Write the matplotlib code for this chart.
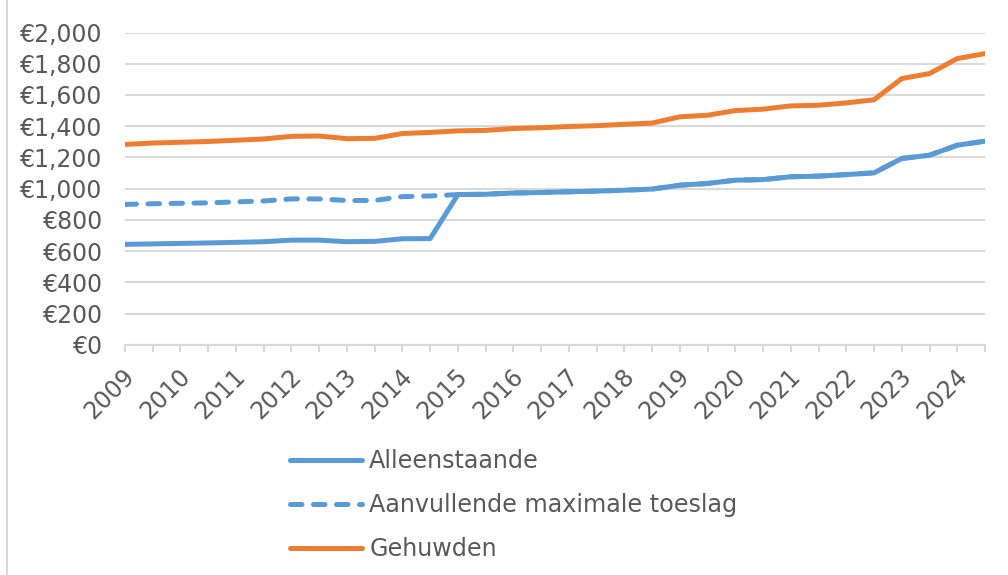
import matplotlib
matplotlib.use("Agg")
import matplotlib.pyplot as plt
from matplotlib.lines import Line2D
import matplotlib.transforms as mtransforms

plt.rcParams['font.family'] = ['DejaVu Sans']

# Half-yearly periods 2009 H1 ... 2024 H2
years = list(range(2009, 2025))
periods = [f"{y}-{h}" for y in years for h in ("01", "07")]

alleenstaande = [643, 646, 649, 652, 656, 660, 670, 670, 660, 662, 679, 680,
                 962, 964, 972, 975, 980, 984, 990, 997, 1022, 1033, 1054, 1058,
                 1076, 1080, 1090, 1101, 1193, 1214, 1278, 1304]
aanvullende = [899, 903, 906, 909, 915, 921, 934, 934, 924, 924, 949, 953,
               962, 964, 972, 975, 980, 984, 990, 997, 1022, 1033, 1054, 1058,
               1076, 1080, 1090, 1101, 1193, 1214, 1278, 1304]
gehuwden = [1283, 1292, 1297, 1302, 1310, 1318, 1335, 1337, 1320, 1322, 1353, 1360,
            1370, 1373, 1385, 1390, 1398, 1403, 1412, 1420, 1460, 1470, 1500, 1509,
            1530, 1534, 1549, 1569, 1705, 1737, 1833, 1865]

y_ticks = [0, 200, 400, 600, 800, 1000, 1200, 1400, 1600, 1800, 2000]
y_labels = ["€0", "€200", "€400", "€600", "€800", "€1,000", "€1,200", "€1,400",
            "€1,600", "€1,800", "€2,000"]

blue = "#5B9BD5"
orange = "#ED7D31"
grid_c = "#D9D9D9"
text_c = "#595959"
fs = 17

fig = plt.figure(figsize=(10.08, 5.75), dpi=100)
ax = fig.add_axes([125/1008, 1-344.75/575, (985-125)/1008, (344.75-32.5)/575])

x = list(range(len(periods)))
lw = 3.6
ax.plot(x, aanvullende, color=blue, lw=lw, dashes=(2.3, 2.3),
        dash_capstyle='round', solid_capstyle='round', label="Aanvullende maximale toeslag", zorder=3)
ax.plot(x, alleenstaande, color=blue, lw=lw, solid_capstyle='round',
        solid_joinstyle='round', label="Alleenstaande", zorder=4)
ax.plot(x, gehuwden, color=orange, lw=lw, solid_capstyle='round',
        solid_joinstyle='round', label="Gehuwden", zorder=4)

ax.set_xlim(0, len(periods) - 1)
ax.set_ylim(0, 2000)
ax.set_yticks(y_ticks)
ax.set_yticklabels(y_labels)
ax.yaxis.grid(True, color=grid_c, lw=1.5)
ax.set_axisbelow(True)
for s in ["top", "right", "left"]:
    ax.spines[s].set_visible(False)
ax.spines["bottom"].set_color(grid_c)
ax.spines["bottom"].set_linewidth(1.5)

ax.tick_params(axis='y', length=0, pad=16, labelsize=fs, labelcolor=text_c)
ax.set_xticks(x, minor=True)
major = x[::2]
ax.set_xticks(major)
ax.set_xticklabels([p[:4] for p in periods[::2]])
ax.tick_params(axis='x', which='both', length=5, width=1.5, color=grid_c, direction='out')
ax.tick_params(axis='x', which='major', labelsize=fs, labelcolor=text_c, pad=15)
offset = mtransforms.ScaledTranslation(6/100, 0, fig.dpi_scale_trans)
for lab in ax.get_xticklabels():
    lab.set_rotation(45)
    lab.set_rotation_mode('anchor')
    lab.set_ha('right')
    lab.set_va('center')
    lab.set_transform(lab.get_transform() + offset)

handles, labels = ax.get_legend_handles_labels()
order = [1, 0, 2]
leg = fig.legend([handles[i] for i in order], [labels[i] for i in order],
                 loc='upper left', bbox_to_anchor=(290/1008, 1-449/575),
                 frameon=False, fontsize=17.2, handlelength=3.0, handletextpad=0.32,
                 labelspacing=0.84, borderaxespad=0, borderpad=0)
for t in leg.get_texts():
    t.set_color(text_c)

fig.add_artist(Line2D([7/1008, 7/1008], [0, 1], transform=fig.transFigure,
                      color=grid_c, lw=1.5))

fig.savefig("out.png", dpi=100)
